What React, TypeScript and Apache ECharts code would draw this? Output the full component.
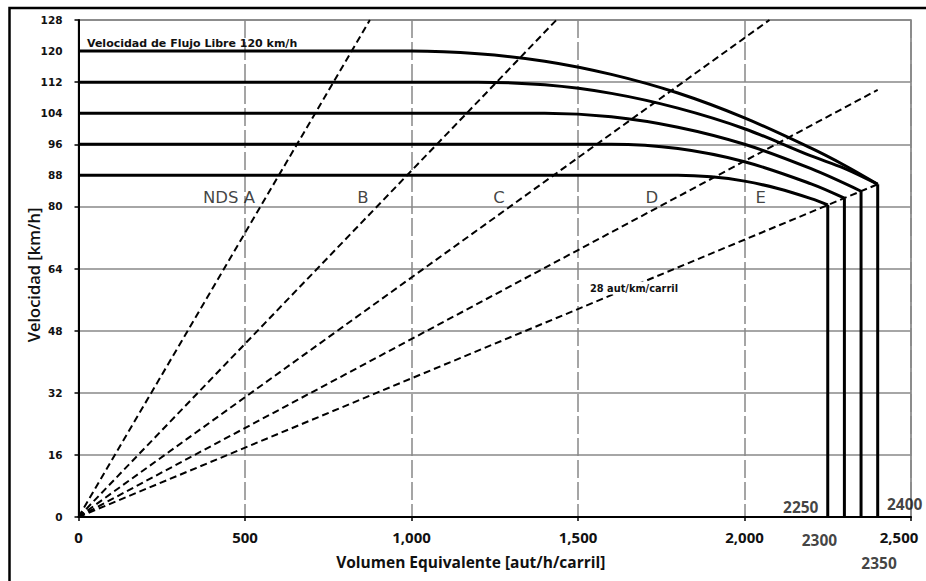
import React, { useEffect, useRef } from 'react';
import * as echarts from 'echarts';

// Axis ticks
const xMin = 0;
const xMax = 2500;
const xStep = 500;
const yMin = 0;
const yMax = 128;
const yLabelValues = [0, 16, 32, 48, 64, 80, 88, 96, 104, 112, 120, 128];

// Speed-flow curves (flow aut/h/carril, speed km/h)
const flow120 = [0, 1000, 1200, 1400, 1600, 1800, 2000, 2200, 2300, 2400];
const speed120 = [120, 120, 119.3, 117.4, 114.0, 109.2, 102.8, 95.0, 90.6, 85.7];
const flow112 = [0, 1200, 1400, 1600, 1800, 2000, 2200, 2300, 2400];
const speed112 = [112, 112, 111.3, 109.1, 105.3, 100.0, 93.0, 89.8, 85.7];
const flow104 = [0, 1400, 1600, 1800, 2000, 2200, 2350];
const speed104 = [104, 104, 103.1, 100.4, 96.0, 89.7, 83.9];
const flow96 = [0, 1600, 1800, 2000, 2200, 2300];
const speed96 = [96, 96, 94.9, 91.5, 85.8, 82.1];
const flow88 = [0, 1800, 1900, 2000, 2100, 2200, 2250];
const speed88 = [88, 88, 87.6, 86.5, 84.6, 82.0, 80.4];

// Capacity drop lines
const capacities = [2250, 2300, 2350, 2400];
const capacitySpeeds = [80.4, 82.1, 83.9, 85.7];
const capacityLabels = ['2250', '2300', '2350', '2400'];

// Density (LOS boundary) dashed lines from origin
const densityEndFlow = [875, 1435, 2075, 2400, 2400];
const densityEndSpeed = [128, 128, 128, 110, 85.7];

// LOS labels
const losLabels = ['NDS A', 'B', 'C', 'D', 'E'];
const losLabelFlow = [452, 854, 1263, 1722, 2049];
const losLabelSpeed = [82.3, 82.3, 82.3, 82.3, 82.3];

const xTitle = 'Volumen Equivalente [aut/h/carril]';
const yTitle = 'Velocidad [km/h]';
const ffsNote = 'Velocidad de Flujo Libre 120 km/h';
const densityNote = '28 aut/km/carril';

const zip = (a: number[], b: number[]) => a.map((v, i) => [v, b[i]]);

export default function App() {
  const ref = useRef<HTMLDivElement>(null);
  useEffect(() => {
    if (!ref.current) return;
    const chart = echarts.init(ref.current, null, { renderer: 'svg' });
    const curveStyle = { color: '#000', width: 3 };
    const curves = [
      zip(flow120, speed120),
      zip(flow112, speed112),
      zip(flow104, speed104),
      zip(flow96, speed96),
      zip(flow88, speed88),
    ].map((d) => ({
      type: 'line',
      data: d,
      smooth: 0.35,
      symbol: 'none',
      lineStyle: curveStyle,
      z: 5,
      yAxisIndex: 0,
    }));
    const drops = capacities.map((c, i) => ({
      type: 'line',
      data: [
        [c, 0],
        [c, capacitySpeeds[i]],
      ],
      symbol: 'none',
      lineStyle: curveStyle,
      z: 5,
      yAxisIndex: 0,
    }));
    const dens = densityEndFlow.map((f, i) => ({
      type: 'line',
      data: [
        [0, 0],
        [f, densityEndSpeed[i]],
      ],
      symbol: 'none',
      lineStyle: { color: '#000', width: 2, type: [7, 4] },
      z: 4,
      yAxisIndex: 0,
    }));
    const capOffsets = [
      [-27, -10],
      [-25, 23],
      [18, 46],
      [27, -13],
    ];
    const option: any = {
      animation: false,
      backgroundColor: '#fff',
      grid: {
        left: 78.5,
        top: 20,
        right: 15,
        bottom: 64,
        show: true,
        borderColor: '#777',
        borderWidth: 1.5,
        backgroundColor: 'transparent',
      },
      xAxis: {
        type: 'value',
        min: xMin,
        max: xMax,
        interval: xStep,
        name: xTitle,
        nameLocation: 'middle',
        nameGap: 37,
        nameTextStyle: {
          fontFamily: 'Open Sans',
          fontWeight: 'bold',
          fontSize: 15.5,
          color: '#111',
          padding: [0, 48, 0, 0],
        },
        axisLine: { show: true, lineStyle: { color: '#000', width: 2 } },
        axisTick: { show: true, length: 4, lineStyle: { color: '#000', width: 1.5 } },
        axisLabel: {
          fontFamily: 'Open Sans',
          fontWeight: 'bold',
          fontSize: 15,
          color: '#111',
          margin: 12,
          formatter: (v: number) =>
            v === xMax ? '{last|' + v.toLocaleString('en-US') + '}' : v.toLocaleString('en-US'),
          rich: {
            last: {
              fontFamily: 'Open Sans',
              fontWeight: 'bold',
              fontSize: 15,
              color: '#111',
              padding: [0, 24, 0, 0],
            },
          },
        },
        splitLine: { show: true, lineStyle: { color: '#888', width: 1.5, type: [18, 4] } },
      },
      yAxis: [
        {
          type: 'value',
          min: yMin,
          max: yMax,
          interval: 8,
          position: 'left',
          axisLine: { show: true, lineStyle: { color: '#000', width: 2 } },
          axisTick: { show: false },
          axisLabel: {
            fontFamily: 'DejaVu Sans',
            fontWeight: 'bold',
            fontSize: 10.5,
            color: '#111',
            margin: 16,
            formatter: (v: number) => (yLabelValues.includes(v) ? String(v) : ''),
          },
          splitLine: { show: false },
        },
        {
          type: 'value',
          min: yMin,
          max: yMax,
          interval: 16,
          position: 'left',
          axisLine: { show: false },
          axisTick: { show: true, length: 4, lineStyle: { color: '#000', width: 1.5 } },
          axisLabel: { show: false },
          splitLine: { show: true, lineStyle: { color: '#888', width: 1.5 } },
        },
      ],
      series: [
        ...dens,
        ...curves,
        ...drops,
        {
          type: 'scatter',
          yAxisIndex: 0,
          symbolSize: 0,
          z: 6,
          data: losLabels.map((n, i) => ({ name: n, value: [losLabelFlow[i], losLabelSpeed[i]] })),
          label: {
            show: true,
            position: 'inside',
            formatter: (p: any) => p.name,
            fontFamily: 'DejaVu Sans',
            fontSize: 16.5,
            color: '#111',
          },
        },
        {
          type: 'scatter',
          yAxisIndex: 0,
          symbolSize: 0,
          z: 6,
          data: capacityLabels.map((n, i) => ({
            name: n,
            value: [capacities[i], 0],
            label: { offset: capOffsets[i] },
          })),
          label: {
            show: true,
            position: 'inside',
            formatter: (p: any) => p.name,
            fontFamily: 'Open Sans',
            fontWeight: 'bold',
            fontSize: 15.5,
            color: '#111',
          },
        },
      ],
      graphic: [
        {
          type: 'rect',
          shape: { x: 9.5, y: 8, width: 1000, height: 1000 },
          style: { fill: 'none', stroke: '#000', lineWidth: 2.5 },
          silent: true,
        },
        {
          type: 'text',
          x: 33,
          y: 275,
          rotation: Math.PI / 2,
          z: 10,
          style: {
            text: yTitle,
            fontFamily: 'Open Sans',
            fontWeight: 600,
            fontSize: 16.5,
            fill: '#111',
            align: 'center',
            verticalAlign: 'middle',
          },
        },
        {
          type: 'text',
          x: 87,
          y: 43,
          z: 10,
          style: {
            text: ffsNote,
            fontFamily: 'DejaVu Sans',
            fontWeight: 'bold',
            fontSize: 11,
            fill: '#111',
            verticalAlign: 'middle',
          },
        },
        {
          type: 'text',
          x: 588,
          y: 288,
          z: 10,
          style: {
            text: densityNote,
            fontFamily: 'DejaVu Sans',
            fontWeight: 'bold',
            fontSize: 9.8,
            fill: '#111',
            verticalAlign: 'middle',
            backgroundColor: '#fff',
            padding: [2, 2, 1, 2],
          },
        },
      ],
    };
    chart.setOption(option);
    return () => chart.dispose();
  }, []);
  return (
    <div
      ref={ref}
      style={{ position: 'fixed', left: 0, top: 0, width: 926, height: 581, background: '#fff' }}
    />
  );
}
